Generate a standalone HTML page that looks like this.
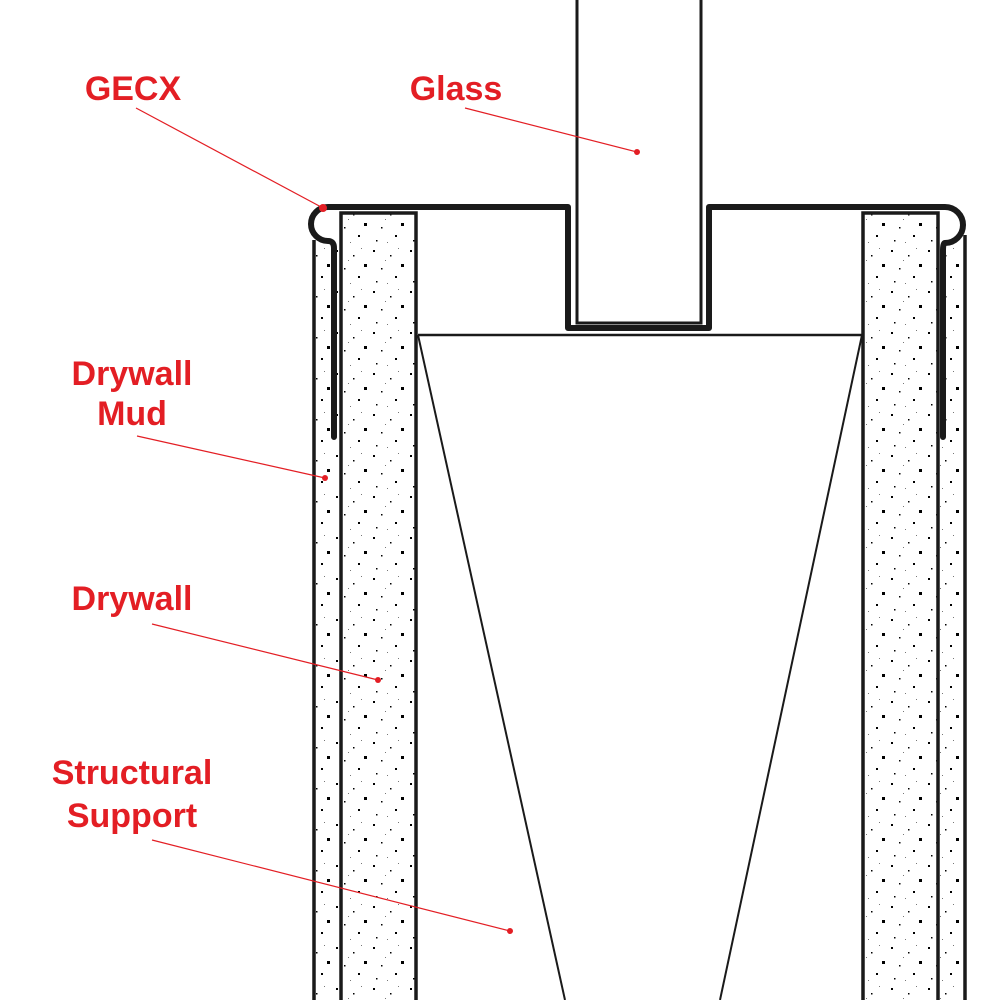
<!DOCTYPE html>
<html><head><style>
html,body{margin:0;padding:0;background:#fff;}
svg{display:block;}
text{font-family:"Liberation Sans",Arial,sans-serif;font-weight:bold;font-size:34px;fill:#e31e24;}
</style></head><body>
<svg width="1000" height="1000" viewBox="0 0 1000 1000" xmlns="http://www.w3.org/2000/svg">
<defs>
<pattern id="dots" width="37" height="41" patternUnits="userSpaceOnUse">
<rect x="3" y="4" width="2" height="2" fill="#000"/>
<rect x="20" y="9" width="1.5" height="1.5" fill="#000"/>
<rect x="31" y="18" width="3" height="3" fill="#000"/>
<rect x="11" y="22" width="1.5" height="1.5" fill="#000"/>
<rect x="25" y="30" width="2" height="2" fill="#000"/>
<rect x="6" y="35" width="1.5" height="1.5" fill="#000"/>
<rect x="15" y="14" width="1" height="1" fill="#777"/>
<rect x="28" y="2" width="1" height="1" fill="#777"/>
<rect x="17" y="37" width="1" height="1" fill="#777"/>
</pattern>
</defs>
<rect x="314" y="245" width="25" height="760" fill="url(#dots)"/>
<rect x="939" y="245" width="25" height="760" fill="url(#dots)"/>
<rect x="341" y="213" width="75" height="800" fill="url(#dots)" stroke="#1a1a1a" stroke-width="3.5"/>
<rect x="863" y="213" width="75" height="800" fill="url(#dots)" stroke="#1a1a1a" stroke-width="3.5"/>
<line x1="314" y1="240" x2="314" y2="1000" stroke="#1a1a1a" stroke-width="3.5"/>
<line x1="965" y1="235" x2="965" y2="1000" stroke="#1a1a1a" stroke-width="3.5"/>
<line x1="418" y1="335" x2="862" y2="335" stroke="#1a1a1a" stroke-width="2.5"/>
<line x1="418" y1="335" x2="565" y2="1000" stroke="#1a1a1a" stroke-width="2"/>
<line x1="862" y1="335" x2="720" y2="1000" stroke="#1a1a1a" stroke-width="2"/>
<rect x="577" y="-5" width="124" height="328" fill="#fff" stroke="#1a1a1a" stroke-width="3"/>
<path d="M334,437 L334,248 Q334,241 328,241 A14,14 0 0 1 328,207 L568,207 L568,328 L709,328 L709,207 L945,207 A18,18 0 0 1 945,243 Q943,243 943,250 L943,437" fill="none" stroke="#1a1a1a" stroke-width="6" stroke-linejoin="round" stroke-linecap="round"/>
<g stroke="#e31e24" stroke-width="1.2">
<line x1="136" y1="108" x2="323" y2="208"/>
<line x1="465" y1="108" x2="637" y2="152"/>
<line x1="137" y1="436" x2="325" y2="478"/>
<line x1="152" y1="624" x2="378" y2="680"/>
<line x1="152" y1="840" x2="510" y2="931"/>
</g>
<g fill="#e31e24">
<circle cx="323" cy="208" r="4"/>
<circle cx="637" cy="152" r="3"/>
<circle cx="325" cy="478" r="3"/>
<circle cx="378" cy="680" r="3"/>
<circle cx="510" cy="931" r="3"/>
</g>
<text x="133" y="100" text-anchor="middle">GECX</text>
<text x="456" y="100" text-anchor="middle">Glass</text>
<text x="132" y="385" text-anchor="middle">Drywall</text>
<text x="132" y="425" text-anchor="middle">Mud</text>
<text x="132" y="610" text-anchor="middle">Drywall</text>
<text x="132" y="784" text-anchor="middle">Structural</text>
<text x="132" y="827" text-anchor="middle">Support</text>
</svg>
</body></html>
